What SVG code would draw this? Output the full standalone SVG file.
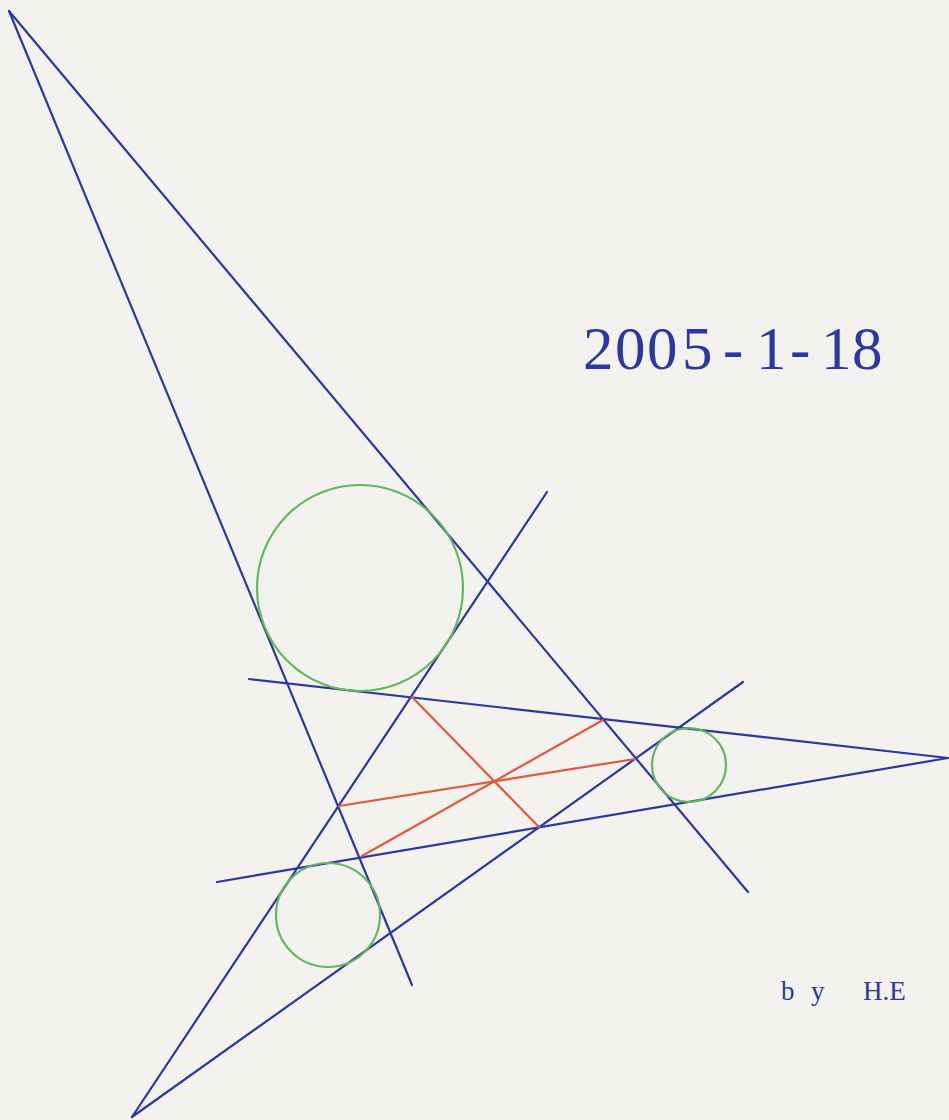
<svg xmlns="http://www.w3.org/2000/svg" width="949" height="1120" viewBox="0 0 949 1120">
<style>
.b{stroke:#2a37a4;stroke-width:2.2;fill:none;stroke-linecap:round}
.r{stroke:#e2583a;stroke-width:2.2;fill:none;stroke-linecap:round}
.g{stroke:#62b85a;stroke-width:2.2;fill:none}
.t{font-family:"Liberation Serif","DejaVu Serif",serif;fill:#2a37a4}
</style>
<rect width="949" height="1120" fill="#f3f2ef"/>
<g id="lines">
<line class="b" x1="9" y1="11" x2="748" y2="892"/>
<line class="b" x1="9" y1="11" x2="412" y2="985"/>
<line class="b" x1="249" y1="679" x2="948" y2="758"/>
<line class="b" x1="217" y1="882" x2="948" y2="758"/>
<line class="b" x1="547" y1="492" x2="132" y2="1117"/>
<line class="b" x1="743" y1="682" x2="132" y2="1117"/>
</g>
<g id="red">
<line class="r" x1="412" y1="697" x2="539" y2="827"/>
<line class="r" x1="339" y1="806" x2="635" y2="759"/>
<line class="r" x1="362" y1="856" x2="603" y2="720"/>
</g>
<g id="circles">
<circle class="g" cx="360" cy="588" r="103"/>
<circle class="g" cx="689" cy="765" r="37"/>
<circle class="g" cx="328" cy="915" r="52"/>
</g>
<text class="t" x="583 615 647 682 723 756 790 821 852" y="369" font-size="61">2005-1-18</text>
<text class="t" x="781" y="1000" font-size="27">b<tspan x="811">y</tspan><tspan x="863">H.E</tspan></text>
</svg>
